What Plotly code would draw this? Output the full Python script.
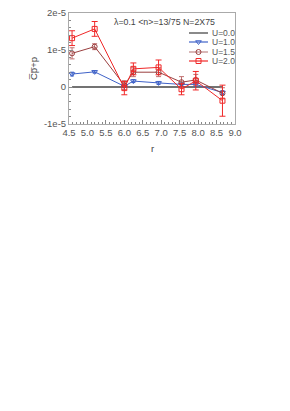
import plotly.graph_objects as go

r = [4.583, 5.196, 6.0, 6.245, 6.928, 7.550, 7.937, 8.660]
u0 = [0, 0, 0, 0, 0, 0, 0, 0]
u1 = [0.35e-5, 0.41e-5, 0.02e-5, 0.16e-5, 0.11e-5, 0.07e-5, 0.07e-5, -0.15e-5]
u1_err = [0.05e-5, 0.03e-5, 0.03e-5, 0.04e-5, 0.04e-5, 0.04e-5, 0.05e-5, 0.05e-5]
u15 = [0.91e-5, 1.09e-5, 0.05e-5, 0.40e-5, 0.40e-5, 0.13e-5, 0.19e-5, -0.17e-5]
u15_err = [0.15e-5, 0.08e-5, 0.12e-5, 0.12e-5, 0.12e-5, 0.15e-5, 0.15e-5, 0.15e-5]
u2 = [1.32e-5, 1.57e-5, -0.03e-5, 0.49e-5, 0.53e-5, -0.06e-5, 0.17e-5, -0.37e-5]
u2_err = [0.2e-5, 0.2e-5, 0.18e-5, 0.16e-5, 0.2e-5, 0.15e-5, 0.25e-5, 0.42e-5]

x_ticks = [4.5, 5.0, 5.5, 6.0, 6.5, 7.0, 7.5, 8.0, 8.5, 9.0]
y_ticks = [-1e-5, 0, 1e-5, 2e-5]
y_labels = ["-1e-5", "0", "1e-5", "2e-5"]

legend_labels = ["U=0.0", "U=1.0", "U=1.5", "U=2.0"]

C_BLUE = "#3f62c8"
C_BROWN = "#9a3f3f"
C_RED = "#f02828"
C_GRAY = "#8a8a8a"

# page body has an 8px default margin; plot box target: x 69..235, y 13..124
PAD = 8
L, T, PW, PH = 69 - PAD, 13 - PAD, 166, 111
W, H = 280, 400

fig = go.Figure()
fig.add_trace(go.Scatter(x=r, y=u0, mode="lines", showlegend=False,
                         line=dict(color="#444", width=1.5)))
fig.add_trace(go.Scatter(x=r, y=u1, mode="lines+markers", showlegend=False,
                         line=dict(color=C_BLUE, width=1),
                         marker=dict(symbol="triangle-down-open", size=5, color=C_BLUE),
                         error_y=dict(type="data", array=u1_err, color=C_BLUE, thickness=1, width=2)))
fig.add_trace(go.Scatter(x=r, y=u15, mode="lines+markers", showlegend=False,
                         line=dict(color=C_BROWN, width=1),
                         marker=dict(symbol="circle-open", size=5, color=C_BROWN),
                         error_y=dict(type="data", array=u15_err, color="#c07070", thickness=1, width=2.5)))
fig.add_trace(go.Scatter(x=r, y=u2, mode="lines+markers", showlegend=False,
                         line=dict(color=C_RED, width=1),
                         marker=dict(symbol="square-open", size=5, color=C_RED),
                         error_y=dict(type="data", array=u2_err, color=C_RED, thickness=1, width=3)))

def px(xp):
    return (xp - 69) / PW

def py(yp):
    return (124 - yp) / PH

# custom compact legend on an overlay axis (paper-like 0..1 coordinates)
leg_y = [py(33), py(42), py(52), py(61)]
leg_colors = [C_GRAY, C_BLUE, "#c08888", C_RED]
leg_mcolors = [None, C_BLUE, C_BROWN, C_RED]
leg_symbols = [None, "triangle-down-open", "circle-open", "square-open"]
annotations = []
for lab, yy, lc, mc, sym in zip(legend_labels, leg_y, leg_colors, leg_mcolors, leg_symbols):
    fig.add_trace(go.Scatter(x=[px(189), px(208)], y=[yy, yy], mode="lines", xaxis="x2", yaxis="y2",
                             showlegend=False, hoverinfo="skip",
                             line=dict(color=lc, width=2 if sym is None else 1.2)))
    if sym is not None:
        fig.add_trace(go.Scatter(x=[px(198.5)], y=[yy], mode="markers", xaxis="x2", yaxis="y2",
                                 showlegend=False, hoverinfo="skip",
                                 marker=dict(symbol=sym, size=5, color=mc)))
    annotations.append(dict(x=px(210), y=yy, xref="x2", yref="y2", xanchor="left", yanchor="middle",
                            text=lab, showarrow=False, font=dict(size=8.5, color="#555")))

annotations.append(dict(x=px(112), y=py(22), xref="paper", yref="paper",
                        xanchor="left", yanchor="middle",
                        text="λ=0.1 &lt;n&gt;=13/75 N=2X75", showarrow=False,
                        font=dict(size=8.8, color="#444", family="Liberation Sans, Arial")))
annotations.append(dict(x=px(34), y=py(69), xref="paper", yref="paper",
                        xanchor="center", yanchor="middle", textangle=-90,
                        text="C̅p̅+p", showarrow=False, font=dict(size=9.5, color="#444")))
annotations.append(dict(x=px(152), y=py(148), xref="paper", yref="paper",
                        xanchor="center", yanchor="middle",
                        text="r", showarrow=False, font=dict(size=9.5, color="#444")))

fig.update_layout(
    width=W, height=H,
    margin=dict(l=L, r=W - L - PW, t=T, b=H - T - PH, autoexpand=False),
    paper_bgcolor="white", plot_bgcolor="white",
    font=dict(family="Liberation Sans, Arial", size=9.5, color="#555"),
    showlegend=False,
    annotations=annotations,
    xaxis=dict(range=[4.5, 9.0], tickvals=x_ticks, ticktext=[f"{v:.1f}" for v in x_ticks],
               ticks="inside", ticklen=4, tickcolor="#888", showgrid=False,
               showline=True, linecolor="#aaa", linewidth=1, mirror=True, zeroline=False,
               ticklabeloverflow="allow",
               minor=dict(dtick=0.1, ticks="inside", ticklen=2, tickcolor="#888")),
    yaxis=dict(range=[-1.0001e-5, 2.0001e-5], tickvals=y_ticks, ticktext=y_labels,
               ticks="inside", ticklen=4, tickcolor="#888", showgrid=False,
               showline=True, linecolor="#aaa", linewidth=1, mirror=True,
               zeroline=False, ticklabeloverflow="allow",
               minor=dict(dtick=0.2e-5, ticks="inside", ticklen=2, tickcolor="#888")),
    xaxis2=dict(overlaying="x", range=[0, 1], visible=False, fixedrange=True),
    yaxis2=dict(overlaying="y", range=[0, 1], visible=False, fixedrange=True),
)

fig.write_html("out.html")
